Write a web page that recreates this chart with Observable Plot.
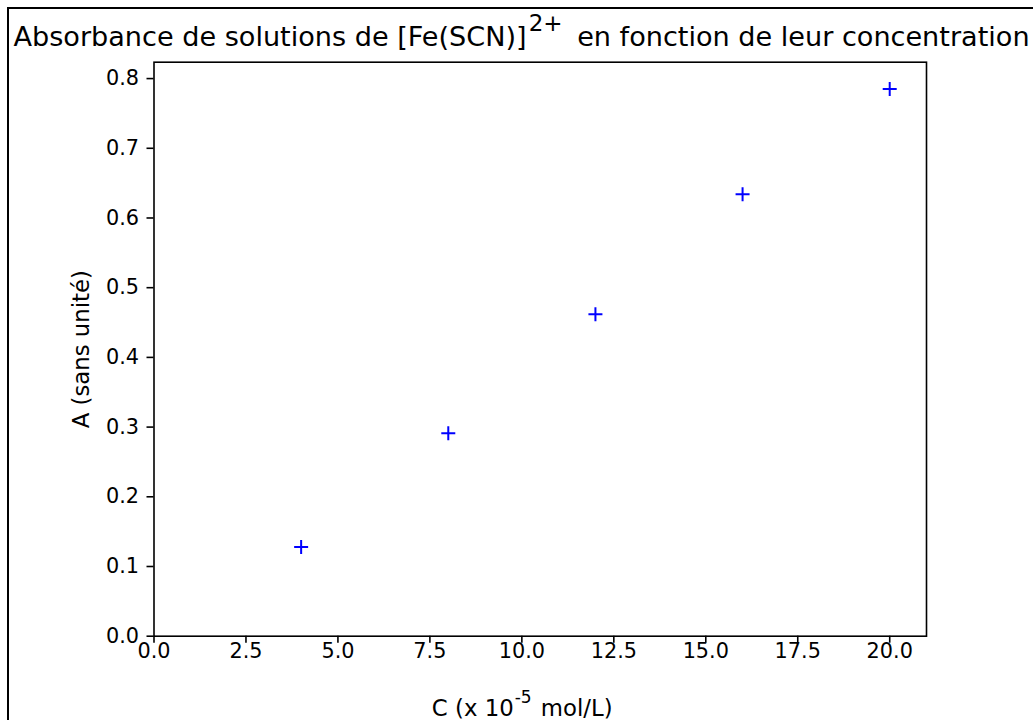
<!DOCTYPE html>
<html>
<head>
<meta charset="utf-8">
<script src="https://cdn.jsdelivr.net/npm/d3@7"></script>
<script src="https://cdn.jsdelivr.net/npm/@observablehq/plot@0.6"></script>
<style>
  html, body { margin: 0; padding: 0; background: #fff; overflow: hidden; }
  #wrap { position: relative; width: 1033px; height: 720px; }
  #border { position: absolute; left: 7px; top: 7px; right: -10px; bottom: -10px;
            border-left: 2.4px solid #000; border-top: 2.4px solid #000; pointer-events: none; }
  #chart { position: absolute; left: 0; top: 0; }
</style>
</head>
<body>
<div id="wrap"><div id="chart"></div><div id="border"></div></div>
<script>
// ---- data ----
const concentrations = [4, 8, 12, 16, 20];          // C (x 10^-5 mol/L)
const absorbances = [0.128, 0.291, 0.462, 0.634, 0.785];
const xTicks = [0, 2.5, 5, 7.5, 10, 12.5, 15, 17.5, 20];
const yTicks = [0, 0.1, 0.2, 0.3, 0.4, 0.5, 0.6, 0.7, 0.8];
const titleParts = ["Absorbance de solutions de [Fe(SCN)]", "2+", " en fonction de leur concentration"];
const xLabelParts = ["C (x 10", "-5", " mol/L)"];
const yLabel = "A (sans unité)";

const points = concentrations.map((c, i) => ({c, a: absorbances[i]}));

const plusSymbol = {
  draw(ctx, size) {
    const r = Math.sqrt(size / Math.PI);
    ctx.moveTo(-r, 0); ctx.lineTo(r, 0);
    ctx.moveTo(0, -r); ctx.lineTo(0, r);
  }
};

const FS = 20.8;
const LFS = 22.8;
const chart = Plot.plot({
  width: 1033,
  height: 720,
  marginLeft: 153.5,
  marginRight: 107,
  marginTop: 61.7,
  marginBottom: 84.3,
  style: {fontFamily: "DejaVu Sans", fontSize: FS + "px", background: "transparent", color: "#000"},
  x: {domain: [0, 21]},
  y: {domain: [0, 0.8235]},
  marks: [
    Plot.axisX({ticks: xTicks, tickFormat: d3.format(".1f"), tickSize: 7, tickPadding: 0.5,
                strokeWidth: 1.6, fontSize: FS, label: null}),
    Plot.axisY({ticks: yTicks, tickFormat: d3.format(".1f"), tickSize: 7, tickPadding: 8,
                strokeWidth: 1.6, fontSize: FS, label: null}),
    Plot.frame({stroke: "#000", strokeWidth: 1.6}),
    Plot.dot(points, {x: "c", y: "a", symbol: plusSymbol, r: 7, fill: "none", stroke: "#0000ff", strokeWidth: 2}),
    Plot.text([xLabelParts.join("")], {text: d => d, frameAnchor: "bottom", textAnchor: "middle", lineAnchor: "bottom",
                                       dx: -18, dy: 79.5, fontSize: LFS, fill: "#000"}),
    Plot.text([yLabel], {text: d => d, frameAnchor: "left", textAnchor: "middle", rotate: -90, lineAnchor: "middle",
                         dx: -72.5, fontSize: LFS, fill: "#000"}),
    Plot.text([titleParts.join("")], {text: d => d, frameAnchor: "top-left", textAnchor: "start", lineAnchor: "bottom",
                                      dx: -140.5, dy: -16.2, fontSize: 27.1, fill: "#000"})
  ]
});
document.getElementById("chart").appendChild(chart);

// superscripts
function superscript(parts, supSize, raise, gap, after) {
  const full = parts.join("");
  d3.select(chart).selectAll("text").filter(function () { return this.textContent === full; })
    .each(function () {
      const t = d3.select(this);
      t.text(null);
      t.append("tspan").text(parts[0]);
      t.append("tspan").attr("dx", gap).attr("dy", -raise).style("font-size", supSize + "px").text(parts[1]);
      t.append("tspan").attr("dx", after).attr("dy", raise).text(parts[2]);
    });
}
superscript(titleParts, 23, 15.5, 2, 6);
superscript(xLabelParts, 17, 12.5, 1, 2);
</script>
</body>
</html>
